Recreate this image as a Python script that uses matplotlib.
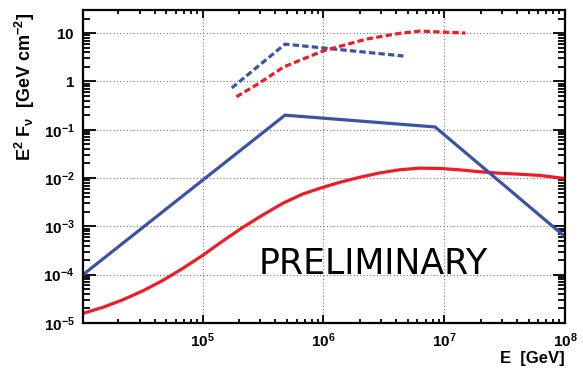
#! /usr/bin/env python3

import numpy as np
import matplotlib
matplotlib.use('Agg')
import matplotlib.pyplot as plt
from matplotlib.ticker import LogLocator, FuncFormatter, NullFormatter

plt.rcParams['font.family'] = ['Liberation Sans', 'DejaVu Sans']
plt.rcParams['mathtext.fontset'] = 'custom'
plt.rcParams['mathtext.rm'] = 'Liberation Sans:bold'
plt.rcParams['mathtext.bf'] = 'Liberation Sans:bold'
plt.rcParams['mathtext.it'] = 'Liberation Sans:bold'

# blue solid (broken power law)
blue_E = [1.02e4, 4.8e5, 8.4e6, 1e8]
blue_F = [1e-4, 0.2, 0.114, 6.1e-4]

# blue dashed
blued_E = [1.74e5, 4.8e5, 4.6e6]
blued_F = [0.73, 5.9, 3.35]

# red solid
red_E = [1.02e4, 1.49e4, 2.18e4, 3.19e4, 4.67e4, 6.84e4, 1e5, 1.46e5,
         2.14e5, 3.13e5, 4.58e5, 6.7e5, 9.8e5, 1.36e6, 1.99e6, 2.9e6,
         4.25e6, 6.21e6, 9.1e6, 1.33e7, 1.95e7, 2.85e7, 4.17e7, 6.1e7, 1e8]
red_F = [1.58e-5, 2.11e-5, 3.02e-5, 4.62e-5, 7.6e-5, 1.35e-4, 2.51e-4, 4.94e-4,
         9.48e-4, 1.71e-3, 2.98e-3, 4.65e-3, 6.38e-3, 8.13e-3, 1.035e-2, 1.27e-2,
         1.48e-2, 1.6e-2, 1.58e-2, 1.48e-2, 1.35e-2, 1.26e-2, 1.2e-2, 1.135e-2, 9.8e-3]

# red dashed
redd_E = [1.9e5, 2.9e5, 4.7e5, 1e6, 2.27e6, 4.2e6, 6.3e6, 9.5e6, 1.5e7]
redd_F = [0.48, 0.9, 2.0, 4.3, 7.5, 9.8, 11.0, 10.5, 10.0]

blue = '#3a53a4'
red = '#ee1d25'

fig = plt.figure(figsize=(5.83, 3.70), dpi=100)
ax = fig.add_axes([83/583, 1-323/370, (565-83)/583, (323-10)/370])

ax.set_xscale('log')
ax.set_yscale('log')
ax.set_xlim(1.02e4, 1e8)
ax.set_ylim(1e-5, 30)

ax.plot(red_E, red_F, color=red, lw=2.3, solid_joinstyle='round')
ax.plot(blue_E, blue_F, color=blue, lw=2.3, solid_joinstyle='miter')
ax.plot(blued_E, blued_F, color=blue, lw=2.3, ls=(0, (2.0, 1.0)))
ax.plot(redd_E, redd_F, color=red, lw=2.3, ls=(0, (2.0, 1.0)))

fig.text(373/583, 1-274/370, 'PRELIMINARY', fontsize=25,
         family='DejaVu Sans', ha='center', va='baseline')

# ticks
def fmt(v, pos):
    e = int(round(np.log10(v)))
    if e == 0:
        return r'$1$'
    if e == 1:
        return r'$10$'
    return r'$10^{%d}$' % e

ax.set_xticks([1e5, 1e6, 1e7, 1e8])
ax.set_yticks([1e-5, 1e-4, 1e-3, 1e-2, 1e-1, 1, 10])
ax.xaxis.set_minor_locator(LogLocator(base=10, subs=np.arange(2, 10), numticks=20))
ax.yaxis.set_minor_locator(LogLocator(base=10, subs=np.arange(2, 10), numticks=20))
ax.xaxis.set_major_formatter(FuncFormatter(fmt))
ax.yaxis.set_major_formatter(FuncFormatter(fmt))
ax.xaxis.set_minor_formatter(NullFormatter())
ax.yaxis.set_minor_formatter(NullFormatter())
ax.set_xlim(1.02e4, 1e8)
ax.set_ylim(1e-5, 30)

ax.tick_params(which='both', direction='in', top=True, right=True, labelsize=11, width=1.3)
ax.tick_params(axis='y', which='major', length=9, pad=6)
ax.tick_params(axis='y', which='minor', length=5)
ax.tick_params(axis='x', which='major', length=6, pad=6)
ax.tick_params(axis='x', which='minor', length=3)

for s in ax.spines.values():
    s.set_linewidth(1.6)

ax.grid(True, which='major', color='#777777', ls=(0, (1, 2)), lw=0.8)

ax.set_ylabel(r'E$^{2}$ F$_{\nu}$  [GeV cm$^{-2}$]', fontsize=13, fontweight='bold')
ax.yaxis.set_label_coords(-0.095, 0.754)
fig.text(565/583, 1-358/370, 'E  [GeV]', fontsize=12, fontweight='bold', ha='right', va='center')

fig.savefig('out.png', dpi=100)
